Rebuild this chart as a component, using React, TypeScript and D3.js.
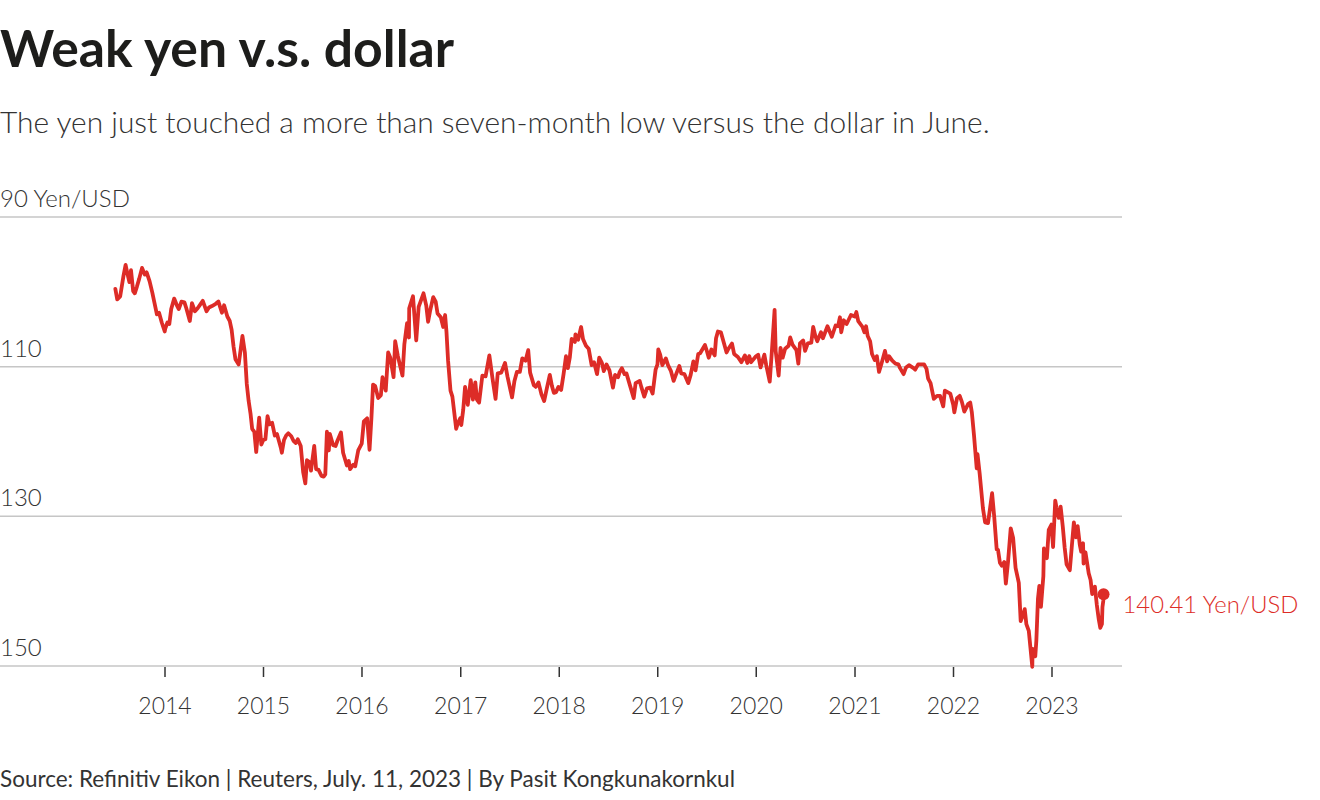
import * as d3 from "d3";

type Pt = [string, number];

// USD/JPY closes, Yen per dollar
const rates2013: Pt[] = [
  ["2013-07-01", 99.6], ["2013-07-08", 101.0], ["2013-07-19", 100.6], ["2013-07-31", 97.9],
  ["2013-08-08", 96.4], ["2013-08-15", 97.6], ["2013-08-22", 98.7], ["2013-08-28", 97.1],
  ["2013-09-05", 99.9], ["2013-09-11", 100.2], ["2013-09-19", 99.3], ["2013-09-27", 98.3],
  ["2013-10-08", 96.8], ["2013-10-18", 97.7], ["2013-10-25", 97.4], ["2013-11-05", 98.6],
  ["2013-11-15", 100.1], ["2013-11-22", 101.3], ["2013-12-02", 103.0], ["2013-12-10", 102.8],
  ["2013-12-20", 104.1], ["2013-12-31", 105.3],
];
const rates2014: Pt[] = [
  ["2014-01-02", 104.9], ["2014-01-10", 104.1], ["2014-01-17", 104.3], ["2014-01-24", 102.3],
  ["2014-02-04", 100.9], ["2014-02-14", 101.8], ["2014-02-21", 102.3], ["2014-03-03", 101.3],
  ["2014-03-14", 101.4], ["2014-03-21", 102.2], ["2014-04-03", 103.9], ["2014-04-11", 101.5],
  ["2014-04-22", 102.6], ["2014-05-02", 102.2], ["2014-05-21", 101.2], ["2014-06-04", 102.6],
  ["2014-06-13", 102.1], ["2014-06-24", 101.9], ["2014-07-08", 101.6], ["2014-07-18", 101.3],
  ["2014-07-31", 102.8], ["2014-08-08", 101.8], ["2014-08-20", 103.3], ["2014-08-29", 103.9],
  ["2014-09-05", 105.1], ["2014-09-12", 107.3], ["2014-09-19", 109.0], ["2014-10-01", 109.7],
  ["2014-10-15", 105.9], ["2014-10-24", 108.1], ["2014-10-31", 112.3], ["2014-11-07", 114.6],
  ["2014-11-14", 116.3], ["2014-11-20", 118.3], ["2014-11-28", 118.7], ["2014-12-05", 121.4],
  ["2014-12-16", 116.8], ["2014-12-24", 120.4], ["2014-12-31", 119.8],
];
const rates2015: Pt[] = [
  ["2015-01-08", 119.7], ["2015-01-16", 116.6], ["2015-01-23", 117.7], ["2015-02-02", 117.5],
  ["2015-02-12", 119.2], ["2015-02-20", 119.0], ["2015-03-06", 120.8], ["2015-03-10", 121.5],
  ["2015-03-18", 119.8], ["2015-03-26", 119.2], ["2015-04-03", 118.9], ["2015-04-14", 119.3],
  ["2015-04-22", 119.9], ["2015-05-01", 120.2], ["2015-05-08", 119.7], ["2015-05-19", 120.6],
  ["2015-05-28", 124.1], ["2015-06-05", 125.6], ["2015-06-11", 122.5], ["2015-06-19", 122.7],
  ["2015-06-26", 123.9], ["2015-07-08", 120.6], ["2015-07-15", 123.7], ["2015-07-24", 123.8],
  ["2015-08-04", 124.6], ["2015-08-12", 124.7], ["2015-08-18", 124.4], ["2015-08-24", 118.7],
  ["2015-08-31", 121.2], ["2015-09-04", 119.0], ["2015-09-16", 120.5], ["2015-09-25", 120.6],
  ["2015-10-02", 119.9], ["2015-10-15", 118.8], ["2015-10-23", 121.5], ["2015-11-06", 123.2],
  ["2015-11-13", 122.6], ["2015-11-18", 123.7], ["2015-11-30", 123.1], ["2015-12-07", 123.3],
  ["2015-12-18", 121.2], ["2015-12-31", 120.3],
];
const rates2016: Pt[] = [
  ["2016-01-08", 117.3], ["2016-01-20", 116.9], ["2016-01-29", 121.1], ["2016-02-05", 116.8],
  ["2016-02-11", 112.4], ["2016-02-19", 112.6], ["2016-03-01", 114.2], ["2016-03-11", 113.8],
  ["2016-03-17", 111.4], ["2016-03-29", 113.2], ["2016-04-07", 108.1], ["2016-04-15", 108.8],
  ["2016-04-27", 111.4], ["2016-05-03", 106.6], ["2016-05-13", 108.6], ["2016-05-30", 111.2],
  ["2016-06-06", 107.0], ["2016-06-16", 104.2], ["2016-06-23", 106.1], ["2016-06-24", 102.2],
  ["2016-07-08", 100.6], ["2016-07-20", 106.5], ["2016-07-29", 102.0], ["2016-08-16", 100.2],
  ["2016-08-26", 101.8], ["2016-09-02", 104.0], ["2016-09-09", 102.6], ["2016-09-21", 100.7],
  ["2016-09-30", 101.3], ["2016-10-07", 102.9], ["2016-10-19", 103.4], ["2016-10-28", 104.7],
  ["2016-11-04", 103.1], ["2016-11-09", 105.3], ["2016-11-15", 109.2], ["2016-11-24", 113.2],
  ["2016-12-01", 114.0], ["2016-12-15", 118.3], ["2016-12-22", 117.5], ["2016-12-30", 116.9],
];
const rates2017: Pt[] = [
  ["2017-01-03", 117.8], ["2017-01-10", 115.8], ["2017-01-17", 112.7], ["2017-01-27", 115.1],
  ["2017-02-07", 111.8], ["2017-02-15", 114.4], ["2017-02-24", 112.1], ["2017-03-02", 114.4],
  ["2017-03-10", 114.8], ["2017-03-22", 111.2], ["2017-04-03", 111.3], ["2017-04-17", 108.5],
  ["2017-04-28", 111.4], ["2017-05-10", 114.3], ["2017-05-18", 110.9], ["2017-05-31", 110.8],
  ["2017-06-14", 109.5], ["2017-06-23", 111.3], ["2017-07-10", 114.1], ["2017-07-19", 111.9],
  ["2017-07-28", 110.7], ["2017-08-08", 110.7], ["2017-08-17", 108.9], ["2017-08-29", 109.2],
  ["2017-09-08", 107.8], ["2017-09-15", 110.8], ["2017-09-29", 112.5], ["2017-10-06", 112.7],
  ["2017-10-16", 112.1], ["2017-10-27", 113.7], ["2017-11-06", 114.6], ["2017-11-16", 112.9],
  ["2017-11-27", 111.1], ["2017-12-05", 112.6], ["2017-12-12", 113.5], ["2017-12-20", 113.4],
  ["2017-12-29", 112.7],
];
const rates2018: Pt[] = [
  ["2018-01-08", 113.1], ["2018-01-17", 111.0], ["2018-01-26", 108.6], ["2018-02-02", 110.2],
  ["2018-02-09", 108.8], ["2018-02-16", 106.3], ["2018-02-28", 106.7], ["2018-03-02", 105.7],
  ["2018-03-12", 106.4], ["2018-03-23", 104.7], ["2018-03-30", 106.3], ["2018-04-10", 107.2],
  ["2018-04-20", 107.6], ["2018-05-01", 109.8], ["2018-05-10", 109.4], ["2018-05-21", 111.0],
  ["2018-05-29", 108.8], ["2018-06-08", 109.5], ["2018-06-15", 110.6], ["2018-06-25", 109.7],
  ["2018-07-06", 110.5], ["2018-07-19", 112.8], ["2018-07-27", 111.1], ["2018-08-07", 111.4],
  ["2018-08-13", 110.7], ["2018-08-21", 110.2], ["2018-08-31", 111.0], ["2018-09-07", 110.9],
  ["2018-09-20", 112.5], ["2018-10-04", 114.2], ["2018-10-11", 112.2], ["2018-10-26", 111.9],
  ["2018-11-01", 112.7], ["2018-11-12", 114.0], ["2018-11-22", 112.9], ["2018-12-04", 112.8],
  ["2018-12-13", 113.6], ["2018-12-24", 110.4], ["2018-12-31", 109.7],
];
const rates2019: Pt[] = [
  ["2019-01-03", 107.7], ["2019-01-10", 108.4], ["2019-01-18", 109.8], ["2019-01-31", 108.9],
  ["2019-02-08", 109.8], ["2019-02-19", 110.6], ["2019-03-01", 111.9], ["2019-03-08", 111.2],
  ["2019-03-22", 109.9], ["2019-03-29", 110.9], ["2019-04-10", 111.0], ["2019-04-24", 112.2],
  ["2019-05-03", 111.1], ["2019-05-13", 109.3], ["2019-05-21", 110.5], ["2019-05-31", 108.3],
  ["2019-06-07", 108.2], ["2019-06-25", 107.1], ["2019-07-02", 107.9], ["2019-07-09", 108.8],
  ["2019-07-19", 107.7], ["2019-07-31", 108.5], ["2019-08-05", 106.2], ["2019-08-12", 105.3],
  ["2019-08-23", 105.4], ["2019-08-30", 106.3], ["2019-09-13", 108.1], ["2019-09-20", 107.6],
  ["2019-10-03", 106.9], ["2019-10-11", 108.3], ["2019-10-25", 108.7], ["2019-11-07", 109.4],
  ["2019-11-20", 108.5], ["2019-11-29", 109.5], ["2019-12-06", 108.6], ["2019-12-13", 109.4],
  ["2019-12-31", 108.6],
];
const rates2020: Pt[] = [
  ["2020-01-08", 108.4], ["2020-01-17", 110.1], ["2020-01-31", 108.4], ["2020-02-07", 109.8],
  ["2020-02-20", 112.0], ["2020-02-28", 107.9], ["2020-03-09", 102.4], ["2020-03-13", 107.9],
  ["2020-03-24", 111.2], ["2020-03-31", 107.5], ["2020-04-08", 108.8], ["2020-04-17", 107.6],
  ["2020-04-30", 107.2], ["2020-05-06", 106.1], ["2020-05-15", 107.1], ["2020-05-29", 107.8],
  ["2020-06-05", 109.6], ["2020-06-11", 106.9], ["2020-06-23", 106.5], ["2020-06-30", 107.9],
  ["2020-07-10", 106.9], ["2020-07-23", 106.8], ["2020-07-30", 104.7], ["2020-08-07", 105.9],
  ["2020-08-14", 106.6], ["2020-08-28", 105.4], ["2020-09-04", 106.2], ["2020-09-21", 104.6],
  ["2020-10-07", 106.0], ["2020-10-21", 104.5], ["2020-10-30", 104.6], ["2020-11-06", 103.4],
  ["2020-11-11", 105.4], ["2020-11-20", 103.8], ["2020-12-01", 104.3], ["2020-12-17", 103.1],
  ["2020-12-31", 103.3],
];
const rates2021: Pt[] = [
  ["2021-01-06", 102.7], ["2021-01-13", 103.9], ["2021-01-29", 104.7], ["2021-02-05", 105.4],
  ["2021-02-11", 104.6], ["2021-02-17", 105.9], ["2021-02-26", 106.6], ["2021-03-05", 108.3],
  ["2021-03-15", 109.1], ["2021-03-23", 108.6], ["2021-03-31", 110.7], ["2021-04-09", 109.6],
  ["2021-04-22", 107.9], ["2021-04-30", 109.3], ["2021-05-07", 108.6], ["2021-05-19", 109.2],
  ["2021-05-31", 109.6], ["2021-06-11", 109.7], ["2021-06-17", 110.2], ["2021-06-30", 111.0],
  ["2021-07-09", 110.1], ["2021-07-20", 109.8], ["2021-08-06", 110.2], ["2021-08-12", 110.4],
  ["2021-08-23", 109.7], ["2021-09-03", 109.7], ["2021-09-14", 109.7], ["2021-09-23", 110.3],
  ["2021-09-29", 111.6], ["2021-10-08", 112.2], ["2021-10-20", 114.3], ["2021-11-01", 113.9],
  ["2021-11-12", 113.9], ["2021-11-24", 115.3], ["2021-11-30", 113.2], ["2021-12-10", 113.4],
  ["2021-12-20", 113.6], ["2021-12-31", 115.1],
];
const rates2022: Pt[] = [
  ["2022-01-04", 116.1], ["2022-01-14", 114.2], ["2022-01-24", 113.9], ["2022-02-01", 114.7],
  ["2022-02-10", 116.0], ["2022-02-24", 115.0], ["2022-03-04", 114.8], ["2022-03-10", 116.1],
  ["2022-03-18", 119.2], ["2022-03-28", 123.6], ["2022-03-31", 121.7], ["2022-04-08", 124.3],
  ["2022-04-20", 128.9], ["2022-04-28", 130.8], ["2022-05-09", 130.9], ["2022-05-24", 126.9],
  ["2022-06-01", 130.1], ["2022-06-10", 134.4], ["2022-06-15", 134.5], ["2022-06-22", 136.2],
  ["2022-06-29", 136.6], ["2022-07-08", 136.1], ["2022-07-14", 139.0], ["2022-07-22", 136.1],
  ["2022-08-01", 131.6], ["2022-08-10", 132.9], ["2022-08-19", 136.9], ["2022-08-31", 138.9],
  ["2022-09-07", 144.0], ["2022-09-16", 143.1], ["2022-09-22", 142.4], ["2022-09-28", 144.4],
  ["2022-10-07", 145.3], ["2022-10-20", 150.1], ["2022-10-21", 147.7], ["2022-10-31", 148.7],
  ["2022-11-04", 146.6], ["2022-11-10", 141.0], ["2022-11-15", 139.3], ["2022-11-21", 142.1],
  ["2022-11-30", 138.0], ["2022-12-02", 134.3], ["2022-12-13", 135.6], ["2022-12-20", 131.8],
  ["2022-12-30", 131.1],
];
const rates2023: Pt[] = [
  ["2023-01-05", 134.1], ["2023-01-13", 127.9], ["2023-01-18", 128.9], ["2023-01-26", 130.2],
  ["2023-02-02", 128.7], ["2023-02-10", 131.4], ["2023-02-17", 134.2], ["2023-02-24", 136.4],
  ["2023-03-08", 137.2], ["2023-03-15", 134.2], ["2023-03-23", 130.8], ["2023-03-31", 132.8],
  ["2023-04-06", 131.3], ["2023-04-14", 133.8], ["2023-04-19", 134.7], ["2023-04-26", 133.6],
  ["2023-04-28", 136.3], ["2023-05-05", 134.8], ["2023-05-17", 137.6], ["2023-05-24", 138.5],
  ["2023-05-30", 140.4], ["2023-06-02", 139.9], ["2023-06-09", 139.4], ["2023-06-16", 141.8],
  ["2023-06-23", 143.7], ["2023-06-29", 144.9], ["2023-07-05", 144.4], ["2023-07-07", 142.1],
  ["2023-07-10", 141.3], ["2023-07-11", 140.41],
];

const yTicks = [90, 110, 130, 150];
const unit = "Yen/USD";
const lastLabel = "140.41 Yen/USD";

const title = "Weak yen v.s. dollar";
const subtitle = "The yen just touched a more than seven-month low versus the dollar in June.";
const source = "Source: Refinitiv Eikon | Reuters, July. 11, 2023 | By Pasit Kongkunakornkul";

const W = 1320, H = 800;
const RED = "#dd2c27";
const FONT = "Lato, 'Noto Sans', sans-serif";

export default function App() {
  const parse = d3.timeParse("%Y-%m-%d");
  const data = [
    ...rates2013, ...rates2014, ...rates2015, ...rates2016, ...rates2017,
    ...rates2018, ...rates2019, ...rates2020, ...rates2021, ...rates2022, ...rates2023,
  ].map(([d, v]) => ({ date: parse(d) as Date, value: v }));

  const x = d3.scaleTime()
    .domain([new Date(2014, 0, 1), new Date(2023, 0, 1)])
    .range([165, 1052]);
  const y = d3.scaleLinear().domain([90, 150]).range([217, 666]);

  const line = d3.line<{ date: Date; value: number }>()
    .x((d) => x(d.date))
    .y((d) => y(d.value));

  const years = d3.timeYear.range(new Date(2014, 0, 1), new Date(2023, 1, 1));
  const last = data[data.length - 1];

  return (
    <svg width={W} height={H} style={{ position: "absolute", left: 0, top: 0, background: "#fff" }} fontFamily={FONT}>
      <text x={0} y={67} fontSize={51.7} fontWeight={700} fill="#1d1d1b">{title}</text>
      <text x={0} y={133} fontSize={29.9} fontWeight={300} fill="#333">{subtitle}</text>

      {yTicks.map((t) => (
        <g key={t}>
          <line x1={0} x2={1122} y1={y(t)} y2={y(t)} stroke="#c6c6c6" strokeWidth={1.5} />
          <text x={0} y={y(t) - 10} fontSize={24} fontWeight={300} fill="#333">
            {t === 90 ? `${t} ${unit}` : t}
          </text>
        </g>
      ))}

      {years.map((d) => (
        <g key={d.getFullYear()} transform={`translate(${x(d)},0)`}>
          <line y1={667} y2={677} stroke="#333" strokeWidth={1.5} />
          <text y={714} textAnchor="middle" fontSize={23} fontWeight={300} fill="#333">
            {d.getFullYear()}
          </text>
        </g>
      ))}

      <path d={line(data) ?? ""} fill="none" stroke={RED} strokeWidth={3.8} strokeLinejoin="round" strokeLinecap="round" />
      <circle cx={x(last.date)} cy={y(last.value)} r={6} fill={RED} />
      <text x={x(last.date) + 19} y={y(last.value) + 19} fontSize={23.8} fontWeight={300} fill={RED}>
        {lastLabel}
      </text>

      <text x={0} y={787} fontSize={22.5} fill="#333">{source}</text>
    </svg>
  );
}
